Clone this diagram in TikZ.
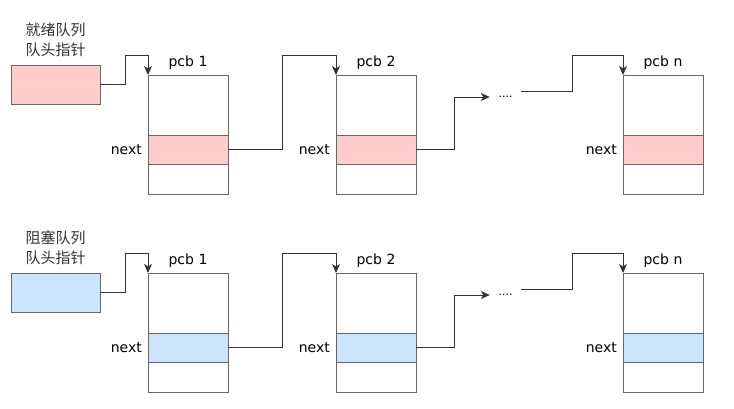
\documentclass[tikz,border=0pt]{standalone}
\usepackage{fontspec}
\setmainfont{DejaVu Sans}
\newfontfamily\cjkfont{Noto Sans CJK SC}
\usepackage{xcolor}
\usetikzlibrary{arrows.meta, positioning, calc}

\definecolor{pcbred}{HTML}{FFCCCC}
\definecolor{pcbblue}{HTML}{CCE5FF}
\definecolor{boxline}{HTML}{666666}
\definecolor{linkline}{HTML}{333333}

\begin{document}
\begin{tikzpicture}[x=1pt, y=-1pt,
    cell/.style={draw=boxline, line width=1pt, minimum width=80pt, inner sep=0pt, outer sep=0pt},
    link/.style={draw=linkline, line width=1pt, -{Stealth[length=9pt,width=8pt,inset=2.5pt]}},
    lbl/.style={font=\fontsize{14}{16}\selectfont, text=black, inner sep=2pt}]
    \useasboundingbox (0,0) rectangle (734,408);

    \def\lift{20}

    \foreach \rw/\py/\hy/\col/\qname in {A/75/65/pcbred/就绪队列, B/273/273/pcbblue/阻塞队列} {
      % head pointer
      \node[cell, fill=\col, minimum width=89pt, minimum height=39pt, anchor=north west] (head\rw) at (11,\hy) {};
      \node[lbl, font=\cjkfont\fontsize{15}{20}\selectfont, text=black!80, align=center, above=6pt of head\rw] (title\rw) {\qname\\队头指针};

      % pcbs
      \foreach \i/\x in {1/148, 2/336, n/623} {
        \node[cell, minimum height=60pt, anchor=north west] (top\rw\i) at (\x,\py) {};
        \node[cell, fill=\col, minimum height=29.5pt, below=0pt of top\rw\i] (nxt\rw\i) {};
        \node[cell, minimum height=29.5pt, below=0pt of nxt\rw\i] (bot\rw\i) {};
        \node[lbl, above=3pt of top\rw\i] (name\rw\i) {pcb \i};
        \node[lbl, left=4pt of nxt\rw\i] (next\rw\i) {next};
      }

      \node[lbl, font=\fontsize{11}{12}\selectfont, inner sep=8.5pt] (dots\rw) at (505.5,\py+22) {....};

      % links
      \draw[link] (head\rw.east) -- ++(25,0) |- ($(top\rw1.north west)+(0,-\lift)$) -- (top\rw1.north west);
      \draw[link] (nxt\rw1.east) -- ++(54,0) |- ($(top\rw2.north west)+(0,-\lift)$) -- (top\rw2.north west);
      \draw[link] (nxt\rw2.east) -- ++(38,0) |- (dots\rw.west);
      \draw[link] ([yshift=6pt]dots\rw.east) -- ++(51,0) |- ($(top\rw n.north west)+(0,-\lift)$) -- (top\rw n.north west);
    }
\end{tikzpicture}
\end{document}
